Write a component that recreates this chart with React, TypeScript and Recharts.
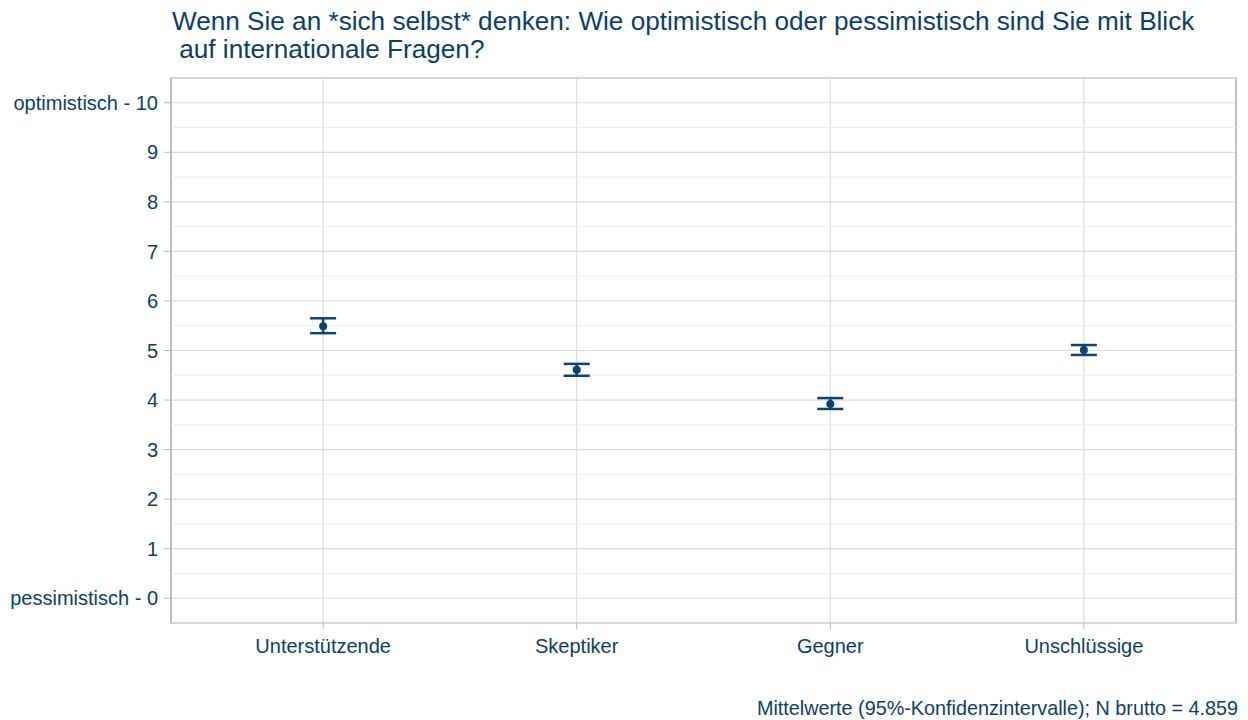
import React from 'react';
import { ComposedChart, Scatter, ErrorBar, XAxis, YAxis, CartesianGrid, ReferenceLine, ReferenceArea } from 'recharts';

const categories = ['Unterstützende', 'Skeptiker', 'Gegner', 'Unschlüssige'];
const means = [5.49, 4.61, 3.92, 5.01];
const lowerBounds = [5.35, 4.49, 3.82, 4.91];
const upperBounds = [5.65, 4.73, 4.04, 5.11];
const yTicks = [0, 1, 2, 3, 4, 5, 6, 7, 8, 9, 10];
const yMinorTicks = [-0.5, 0.5, 1.5, 2.5, 3.5, 4.5, 5.5, 6.5, 7.5, 8.5, 9.5, 10.5];
const titleLines = [
  'Wenn Sie an *sich selbst* denken: Wie optimistisch oder pessimistisch sind Sie mit Blick',
  '\u00a0auf internationale Fragen?',
];
const caption = 'Mittelwerte (95%-Konfidenzintervalle); N brutto = 4.859';

const data = categories.map((c, i) => ({
  x: i + 1,
  name: c,
  y: means[i],
  err: [means[i] - lowerBounds[i], upperBounds[i] - means[i]],
}));

const TEXT = '#0d3e69';
const MARK = '#0f426d';
const FONT = '"Liberation Sans", Arial, sans-serif';

const yFmt = (v: number) => (v === 10 ? 'optimistisch - 10' : v === 0 ? 'pessimistisch - 0' : String(v));
const xFmt = (v: number) => categories[v - 1] ?? '';

export default function App() {
  return (
    <div style={{ position: 'absolute', left: 0, top: 0, width: 1248, height: 720, background: '#fff', fontFamily: FONT }}>
      <div style={{ position: 'absolute', left: 172, top: 7, fontSize: 26.15, lineHeight: '28px', color: TEXT, whiteSpace: 'pre' }}>
        {titleLines.map((l, i) => (
          <div key={i}>{l}</div>
        ))}
      </div>
      <ComposedChart
        width={1248}
        height={720}
        data={data}
        margin={{ top: 78, right: 12, bottom: 57, left: 0 }}
        style={{ position: 'absolute', left: 0, top: 0 }}
      >
        {yMinorTicks.map((t) => (
          <ReferenceLine key={'m' + t} y={t} stroke="#ededed" strokeWidth={1} ifOverflow="extendDomain" />
        ))}
        <CartesianGrid stroke="#dcdcdc" strokeWidth={1.2} />
        <XAxis
          type="number"
          dataKey="x"
          domain={[0.4, 4.6]}
          ticks={[1, 2, 3, 4]}
          tickFormatter={xFmt}
          allowDataOverflow
          height={40}
          axisLine={false}
          tickSize={6}
          tickLine={{ stroke: '#b8b8b8' }}
          tickMargin={10}
          tick={{ fill: TEXT, fontSize: 20, fontFamily: FONT }}
        />
        <YAxis
          type="number"
          dataKey="y"
          domain={[-0.5, 10.5]}
          ticks={yTicks}
          tickFormatter={yFmt}
          allowDataOverflow
          width={171}
          axisLine={false}
          tickSize={7}
          tickLine={{ stroke: '#b8b8b8' }}
          tickMargin={6}
          tick={{ fill: TEXT, fontSize: 20, fontFamily: FONT }}
        />
        <ReferenceArea x1={0.4} x2={4.6} y1={-0.5} y2={10.5} fill="none" stroke="#b3b3b3" strokeWidth={1.5} ifOverflow="visible" />
        <Scatter data={data} dataKey="y" fill={MARK} isAnimationActive={false} shape={(p: any) => <circle cx={p.cx} cy={p.cy} r={4} fill={MARK} />}>
          <ErrorBar dataKey="err" direction="y" width={13} stroke={MARK} strokeWidth={2.5} isAnimationActive={false} />
        </Scatter>
      </ComposedChart>
      <div style={{ position: 'absolute', right: 10, top: 697, fontSize: 19.8, color: TEXT, whiteSpace: 'pre' }}>{caption}</div>
    </div>
  );
}
